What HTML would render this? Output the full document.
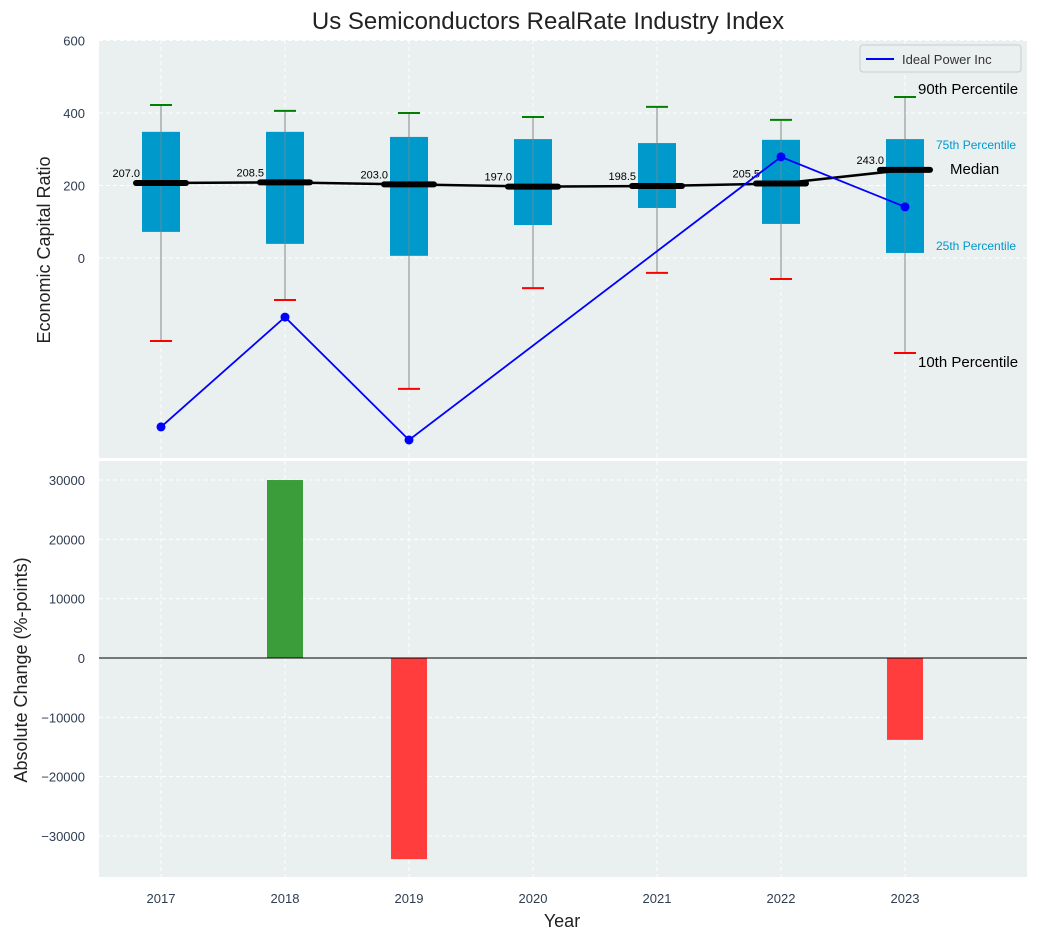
<!DOCTYPE html>
<html><head><meta charset="utf-8">
<style>
html,body{margin:0;padding:0;background:#fff;}
svg{display:block;font-family:"Liberation Sans",sans-serif;}
</style></head>
<body>
<svg id="chart" width="1038" height="940">
  <rect x="99" y="40" width="928" height="418" fill="#eaeff0"/>
  <rect x="99" y="461" width="928" height="416" fill="#eaeff0"/>
  <g id="grid"></g>
  <g id="marks"></g>
  <text x="548" y="29" font-size="24" text-anchor="middle" fill="#222">Us Semiconductors RealRate Industry Index</text>
  <text transform="translate(50,250) rotate(-90)" font-size="18" text-anchor="middle" fill="#222">Economic Capital Ratio</text>
  <text transform="translate(27,670) rotate(-90)" font-size="18" text-anchor="middle" fill="#222">Absolute Change (%-points)</text>
  <text x="562" y="927" font-size="18" text-anchor="middle" fill="#222">Year</text>
  <g>
    <rect x="860" y="45" width="161" height="27" rx="3" fill="#eaeff0" stroke="#ccc"/>
    <line x1="866" y1="59" x2="894" y2="59" stroke="blue" stroke-width="2"/>
    <text x="902" y="64" font-size="13" fill="#333">Ideal Power Inc</text>
  </g>
  <text x="918" y="94" font-size="15" fill="#000">90th Percentile</text>
  <text x="936" y="149" font-size="12" fill="#0099cc">75th Percentile</text>
  <text x="950" y="174" font-size="15" fill="#000">Median</text>
  <text x="936" y="250" font-size="12" fill="#0099cc">25th Percentile</text>
  <text x="918" y="367" font-size="15" fill="#000">10th Percentile</text>
</svg>
<script>
const years=[2017,2018,2019,2020,2021,2022,2023];
const p10=[-229,-116,-361,-83,-41,-58,-262];
const p25=[72,39,6,91,138,94,14];
const medians=[207.0,208.5,203.0,197.0,198.5,205.5,243.0];
const p75=[348,348,334,328,317,326,328];
const p90=[422,406,400,389,417,381,444];
const companyYears=[2017,2018,2019,2022,2023];
const companyVals=[-466,-163,-502,279,141];
const changeVals=[0,30000,-33900,0,0,0,-13800];
const topTicks=[0,200,400,600];
const bottomTicks=[-30000,-20000,-10000,0,10000,20000,30000];

const NS="http://www.w3.org/2000/svg";
const xs=y=>161+(y-2017)*124;
const yTop=v=>258-v*0.3625;
const yBot=v=>658-v*0.005933;
function el(tag,a,parent){const e=document.createElementNS(NS,tag);for(const k in a)e.setAttribute(k,a[k]);parent.appendChild(e);return e;}
const grid=document.getElementById('grid'),marks=document.getElementById('marks');
const fmt=v=>v<0?'\u2212'+Math.abs(v):String(v);

years.forEach(y=>{
  let g=el('line',{x1:xs(y),x2:xs(y),y1:40,y2:458,stroke:'#fff','stroke-dasharray':'4,3'},grid);
  
  
  g=el('line',{x1:xs(y),x2:xs(y),y1:461,y2:877,stroke:'#fff','stroke-dasharray':'4,3'},grid);
  
  
  const t=el('text',{x:xs(y),y:903,'font-size':13,'text-anchor':'middle',fill:'#2e3d52'},grid);t.textContent=y;
  
  
});
topTicks.forEach(v=>{
  const g=el('line',{x1:99,x2:1027,y1:yTop(v),y2:yTop(v),stroke:'#fff','stroke-dasharray':'4,3'},grid);
  
  
  const t=el('text',{x:85,y:yTop(v)+5,'font-size':13,'text-anchor':'end',fill:'#2e3d52'},grid);t.textContent=fmt(v);
  
  
});
bottomTicks.forEach(v=>{
  const g=el('line',{x1:99,x2:1027,y1:yBot(v),y2:yBot(v),stroke:'#fff','stroke-dasharray':'4,3'},grid);
  
  
  const t=el('text',{x:85,y:yBot(v)+5,'font-size':13,'text-anchor':'end',fill:'#2e3d52'},grid);t.textContent=fmt(v);
  
  
});
el('line',{x1:99,x2:1027,y1:459.5,y2:459.5,stroke:'#fff','stroke-width':2},grid);

years.forEach((y,i)=>{
  const x=xs(y);
  let e=el('line',{x1:x,x2:x,y1:yTop(p90[i]),y2:yTop(p10[i]),stroke:'#888','stroke-width':1},marks);
  
  
  e=el('rect',{x:x-19,y:yTop(p75[i]),width:38,height:yTop(p25[i])-yTop(p75[i]),fill:'#0099cc'},marks);
  
  
  el('line',{x1:x,x2:x,y1:yTop(p75[i]),y2:yTop(p25[i]),stroke:'#888','stroke-width':1,opacity:0.7},marks);
  e=el('line',{x1:x-11,x2:x+11,y1:yTop(p90[i]),y2:yTop(p90[i]),stroke:'green','stroke-width':2},marks);
  
  
  e=el('line',{x1:x-11,x2:x+11,y1:yTop(p10[i]),y2:yTop(p10[i]),stroke:'red','stroke-width':2},marks);
  
  
});
let d=years.map((y,i)=>(i?'L':'M')+xs(y)+','+yTop(medians[i])).join(' ');
let ml=el('path',{d:d,fill:'none',stroke:'#000','stroke-width':2.5},marks);


years.forEach((y,i)=>{
  const x=xs(y);
  let e=el('line',{x1:x-25,x2:x+25,y1:yTop(medians[i]),y2:yTop(medians[i]),stroke:'#000','stroke-width':6,'stroke-linecap':'round'},marks);
  
  
  const t=el('text',{x:x-21,y:yTop(medians[i])-6,'font-size':11,'text-anchor':'end',fill:'#000'},marks);
  t.textContent=medians[i].toFixed(1);
  
  
});
d=companyYears.map((y,i)=>(i?'L':'M')+xs(y)+','+yTop(companyVals[i])).join(' ');
let cl=el('path',{d:d,fill:'none',stroke:'blue','stroke-width':1.8},marks);


companyYears.forEach((y,i)=>{
  const c=el('circle',{cx:xs(y),cy:yTop(companyVals[i]),r:4.5,fill:'blue'},marks);
  
  
});
years.forEach((y,i)=>{
  const v=changeVals[i]; if(!v) return;
  const y0=yBot(0),y1=yBot(v);
  const b=el('rect',{x:xs(y)-18,y:Math.min(y0,y1),width:36,height:Math.abs(y1-y0),fill:v>0?'#3a9d3a':'#ff3d3d'},marks);
  
  
});
let zl=el('line',{x1:99,x2:1027,y1:yBot(0),y2:yBot(0),stroke:'#000','stroke-width':1},marks);


</script>
</body></html>
